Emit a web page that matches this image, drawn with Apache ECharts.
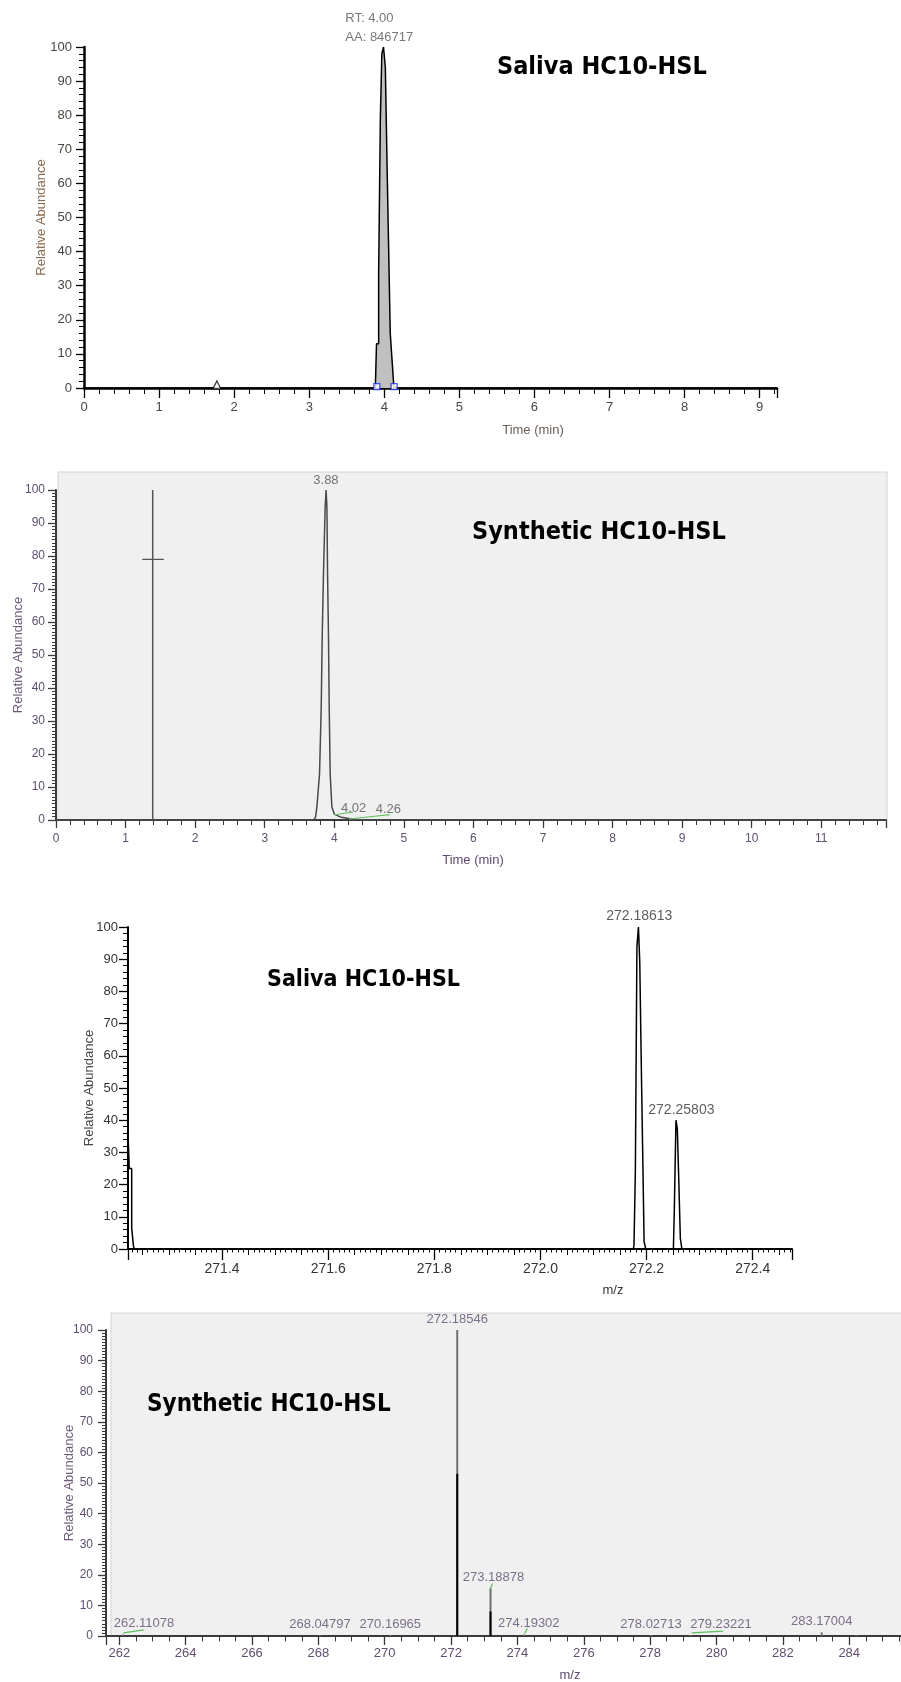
<!DOCTYPE html>
<html>
<head>
<meta charset="utf-8">
<title>HC10-HSL chromatograms and mass spectra</title>
<script src="https://cdn.jsdelivr.net/npm/echarts@6.0.0/dist/echarts.min.js"></script>
<style>
  html, body { margin: 0; padding: 0; background: #fff; }
  #chart { width: 901px; height: 1682px; }
</style>
</head>
<body>
<div id="chart"></div>
<script>
// ---- values ----

// top: saliva chromatogram (time in min / relative abundance)
const salivaRtTime = [0, 3.880, 3.912, 3.937, 3.957, 3.977, 4.001, 4.026, 4.046, 4.067, 4.091, 4.116, 4.140, 9.23];
const salivaRtAbund = [0, 0, 13, 34, 79, 98, 100, 94, 66, 42, 16, 8, 0, 0];
const salivaPeakTime = [4.00];
const salivaPeakAbund = [100];
const salivaPeakText = ["RT: 4.00\nAA: 846717"];
const salivaBoundTime = [3.90, 4.13];
const salivaBoundAbund = [0.4, 0.4];
const salivaFlagTime = [1.77];
const salivaFlagAbund = [0.9];

// second: synthetic chromatogram
const synthRtTime = [0, 3.70, 3.73, 3.75, 3.788, 3.812, 3.826, 3.845, 3.869, 3.882, 3.894, 3.903, 3.917, 3.927, 3.941, 3.965, 4.00, 4.10, 4.25, 4.42, 11.93];
const synthRtAbund = [0, 0, 0.8, 4, 14, 34, 55, 75, 95, 100, 95, 75, 55, 34, 14, 4, 1.8, 0.8, 0.3, 0, 0];
const synthCursorTime = [1.39, 1.39];
const synthCursorAbund = [0, 100];
const synthCrossTime = [1.24, 1.55];
const synthCrossAbund = [79, 79];
const synthBaseTime = [[4.00, 4.27], [4.21, 4.80]];
const synthBaseAbund = [[1.6, 2.4], [0.3, 1.6]];
const synthPeakTime = [3.88, 4.02, 4.26];
const synthPeakAbund = [100, 2.4, 1.6];
const synthPeakText = ["3.88", "4.02", "4.26"];

// third: saliva mass spectrum (profile)
const salivaMz = [271.2228, 271.2275, 271.2320, 271.2345, 271.2365,
  272.1750, 272.1775, 272.1802, 272.1834, 272.1859, 272.1884, 272.1909, 272.1938, 272.1968, 272.2000,
  272.2505, 272.2541, 272.2566, 272.2591, 272.2622, 272.2650, 272.2680, 272.474];
const salivaMzAbund = [36, 25, 6.5, 0.7, 0,
  0, 1.2, 24, 94, 100, 89, 61, 33, 2.3, 0,
  0, 12.6, 40, 37.4, 21.4, 3.3, 0, 0];
const salivaMzPeak = [272.18613, 272.25803];
const salivaMzPeakAbund = [100, 40];

// bottom: synthetic mass spectrum (centroid sticks)
const synthMz = [262.11078, 268.04797, 270.16965, 272.18546, 273.18878, 274.19302, 278.02713, 279.23221, 283.17004, 284.22];
const synthMzAbund = [0.5, 0.3, 0.3, 100, 15.6, 0.5, 0.3, 0.3, 1.2, 0.3];
const synthMzDark = [272.18546, 273.18878];
const synthMzDarkAbund = [53, 8];
const synthMzLabels = [262.11078, 268.04797, 270.16965, 272.18546, 273.18878, 274.19302, 278.02713, 279.23221, 283.17004];
const synthMzLabelAbund = [0.5, 0.3, 0.3, 100, 15.6, 0.5, 0.3, 0.3, 1.2];
const greenSegMz = [[262.12, 262.74], [273.19, 273.25], [274.22, 274.30], [279.25, 280.20]];
const greenSegAbund = [[1.0, 2.0], [15.6, 17.2], [0.8, 2.5], [1.0, 1.6]];

// label nudges in px (layout only)
const synthPeakShift = [[0, 0], [18, 6], [36, 5]];
const synthMzShift = [[21, 0], [0, 0], [0, 0], [0, 0], [3, 0], [5, 0], [0, 0], [30, 0], [0, 0]];

// ---- styling ----
const SANS = "'Liberation Sans', Arial, sans-serif";
const NARROW = "'Liberation Sans Narrow', 'Liberation Sans', Arial, sans-serif";
const TITLE_FONT = "'DejaVu Sans Condensed', 'Noto Sans', sans-serif";
const PURPLE = "#5e4f6e";

const pairs = (xs, ys) => xs.map((x, i) => [x, ys[i]]);
const onStep = (v, step) => Math.abs(v / step - Math.round(v / step)) < 1e-6;

function yAxisFor(gridIndex, c) {
  return {
    type: "value", gridIndex, min: 0, max: 100, interval: 10, position: "left",
    name: "Relative Abundance", nameLocation: "middle", nameRotate: 90, nameGap: c.nameGap,
    nameMoveOverlap: false,
    nameTextStyle: { color: c.nameColor, fontFamily: c.font, fontSize: 13 },
    axisLine: { show: true, onZero: false, lineStyle: { color: c.line, width: c.lineWidth } },
    axisTick: { show: true, length: c.tick, lineStyle: { color: c.line, width: 1.3 } },
    axisLabel: { color: c.label, fontFamily: c.font, fontSize: c.size, margin: c.margin },
    splitLine: { show: false },
  };
}

// tick-only companion axis for the minor ticks
function yMinorFor(gridIndex, step, c) {
  return {
    type: "value", gridIndex, min: 0, max: 100, interval: step, position: "left",
    axisLine: { show: false, onZero: false },
    axisTick: { show: true, length: c.minorTick, lineStyle: { color: c.line, width: 1 } },
    axisLabel: { show: false },
    splitLine: { show: false },
  };
}

// step picks the tick spacing; labelled = the axis carrying line and labels
function xAxisFor(gridIndex, range, step, c, tickLen, labelled) {
  const [min, max] = range;
  const ax = {
    type: "value", gridIndex, min, max, position: "bottom",
    axisLine: { show: labelled, onZero: false, lineStyle: { color: c.line, width: c.lineWidth } },
    axisTick: { show: true, length: tickLen, lineStyle: { color: c.line, width: labelled ? 1.3 : 1 } },
    axisLabel: {
      show: labelled, color: c.label, fontFamily: c.font, fontSize: c.size, margin: c.margin,
      formatter: (v) => (onStep(v, c.labelStep) ? v.toFixed(c.digits) : ""),
    },
    splitLine: { show: false },
  };
  if (onStep(min, step)) ax.interval = step;
  else ax.splitNumber = Math.round((max - min) / step);
  return ax;
}

function labelSeries(xi, yi, xs, ys, texts, label, shifts) {
  return {
    type: "scatter", xAxisIndex: xi, yAxisIndex: yi, symbolSize: 1, z: 5,
    itemStyle: { color: "transparent" },
    label: Object.assign({ show: true, position: "top", formatter: "{b}" }, label),
    data: xs.map((x, i) => ({
      name: texts[i], value: [x, ys[i]],
      label: shifts ? { offset: shifts[i] } : {},
    })),
  };
}

const p1 = { line: "#000", lineWidth: 2.5, label: "#4a4540", font: SANS, size: 13, margin: 13, labelStep: 1, digits: 0 };
const p2 = { line: "#3a3a3a", lineWidth: 2, label: PURPLE, font: SANS, size: 12, margin: 13, labelStep: 1, digits: 0 };
const p3 = { line: "#000", lineWidth: 2, label: "#333", font: NARROW, size: 14, margin: 13, labelStep: 0.2, digits: 1 };
const p4 = { line: "#3a3a3a", lineWidth: 2, label: PURPLE, font: SANS, size: 13, margin: 11, labelStep: 2, digits: 0 };

const y1 = { nameGap: 36, nameColor: "#8a6a4e", font: SANS, line: "#000", lineWidth: 2.5, tick: 8, minorTick: 5, label: "#4a4540", size: 13, margin: 12 };
const y2 = { nameGap: 31, nameColor: "#6e5a78", font: SANS, line: "#3a3a3a", lineWidth: 2, tick: 8, minorTick: 4, label: PURPLE, size: 12, margin: 11 };
const y3 = { nameGap: 32, nameColor: "#444", font: SANS, line: "#000", lineWidth: 2, tick: 9, minorTick: 5, label: "#333", size: 13, margin: 10 };
const y4 = { nameGap: 30, nameColor: "#6e5a78", font: SANS, line: "#3a3a3a", lineWidth: 2, tick: 8, minorTick: 4, label: PURPLE, size: 12, margin: 13 };

const xRange = [[0, 9.23], [0, 11.93], [271.2228, 272.474], [261.6, 285.56]];

const chart = echarts.init(document.getElementById("chart"), null, { renderer: "canvas" });

const greenSeries = greenSegMz.map((xs, i) => ({
  type: "line", xAxisIndex: 6, yAxisIndex: 3, symbol: "none", z: 4,
  lineStyle: { color: "#5cc05c", width: 1.2 },
  data: pairs(xs, greenSegAbund[i]),
}));
const synthBaseSeries = synthBaseTime.map((xs, i) => ({
  type: "line", xAxisIndex: 2, yAxisIndex: 1, symbol: "none", z: 4,
  lineStyle: { color: "#6cc46c", width: 1.2 },
  data: pairs(xs, synthBaseAbund[i]),
}));

const option = {
  animation: false,
  backgroundColor: "#fff",
  grid: [
    { left: 84, top: 47, width: 693, height: 341, outerBoundsMode: "none" },
    { left: 56, top: 490, width: 830, height: 330, outerBoundsMode: "none" },
    { left: 128, top: 927, width: 664, height: 322, outerBoundsMode: "none" },
    { left: 106, top: 1330, width: 795, height: 306, outerBoundsMode: "none" },
  ],
  xAxis: [
    xAxisFor(0, xRange[0], 1, p1, 10, true),
    xAxisFor(0, xRange[0], 0.2, p1, 6, false),
    xAxisFor(1, xRange[1], 1, p2, 8, true),
    xAxisFor(1, xRange[1], 0.2, p2, 5, false),
    xAxisFor(2, xRange[2], 0.2, p3, 11, true),
    xAxisFor(2, xRange[2], 0.05, p3, 6, false),
    xAxisFor(3, xRange[3], 2, p4, 9, true),
    xAxisFor(3, xRange[3], 0.5, p4, 5.5, false),
    xAxisFor(2, xRange[2], 0.01, p3, 3.5, false),
  ],
  yAxis: [
    yAxisFor(0, y1),
    yAxisFor(1, y2),
    yAxisFor(2, y3),
    yAxisFor(3, y4),
    yMinorFor(0, 2, y1),
    yMinorFor(1, 1, y2),
    yMinorFor(2, 2, y3),
    yMinorFor(3, 1, y4),
  ],
  graphic: {
    elements: [
      { type: "rect", z: -10, shape: { x: 58, y: 472, width: 829, height: 348 }, style: { fill: "#f0f0f0", stroke: "#d2d2d2", lineWidth: 1 } },
      { type: "rect", z: -10, shape: { x: 111, y: 1313, width: 795, height: 323 }, style: { fill: "#f0f0f0", stroke: "#d2d2d2", lineWidth: 1 } },
      ...[
        ["Saliva HC10-HSL", 497, 67, 25],
        ["Synthetic HC10-HSL", 472, 532, 25],
        ["Saliva HC10-HSL", 267, 980, 23],
        ["Synthetic HC10-HSL", 147, 1405, 24],
      ].map(([text, x, y, size]) => ({
        type: "text", x, y, z: 100,
        style: { text, fill: "#000", font: `bold ${size}px ${TITLE_FONT}`, textAlign: "left", textVerticalAlign: "middle", align: "left", verticalAlign: "middle" },
      })),
      ...[
        ["Time (min)", 533, 430, "#6a5c55"],
        ["Time (min)", 473, 860, "#5e4a70"],
        ["m/z", 613, 1290, "#333"],
        ["m/z", 570, 1675, "#5e4a70"],
      ].map(([text, x, y, color]) => ({
        type: "text", x, y, z: 100,
        style: { text, fill: color, font: `13px ${SANS}`, textAlign: "center", textVerticalAlign: "middle", align: "center", verticalAlign: "middle" },
      })),
    ],
  },
  series: [
    // top chromatogram
    {
      type: "line", xAxisIndex: 0, yAxisIndex: 0, step: "middle", symbol: "none", z: 3,
      lineStyle: { color: "#000", width: 1.5 },
      areaStyle: { color: "#c0c0c0", opacity: 1 },
      data: pairs(salivaRtTime, salivaRtAbund),
    },
    {
      type: "scatter", xAxisIndex: 0, yAxisIndex: 0, symbol: "rect", symbolSize: 6, z: 4,
      itemStyle: { color: "#fff", borderColor: "#1a2cff", borderWidth: 1.3 },
      data: pairs(salivaBoundTime, salivaBoundAbund),
    },
    {
      type: "scatter", xAxisIndex: 0, yAxisIndex: 0, symbol: "triangle", symbolSize: 8, z: 4,
      itemStyle: { color: "#fff", borderColor: "#000", borderWidth: 1.2 },
      data: pairs(salivaFlagTime, salivaFlagAbund),
    },
    labelSeries(0, 0, salivaPeakTime, salivaPeakAbund, salivaPeakText,
      { align: "left", offset: [-39, 5], color: "#555", fontFamily: SANS, fontSize: 13, lineHeight: 19 }),

    // synthetic chromatogram
    {
      type: "line", xAxisIndex: 2, yAxisIndex: 1, symbol: "none", z: 3,
      lineStyle: { color: "#4a4a4a", width: 1.5 },
      data: pairs(synthRtTime, synthRtAbund),
    },
    {
      type: "line", xAxisIndex: 2, yAxisIndex: 1, symbol: "none", z: 3,
      lineStyle: { color: "#555", width: 1.5 },
      data: pairs(synthCursorTime, synthCursorAbund),
    },
    {
      type: "line", xAxisIndex: 2, yAxisIndex: 1, symbol: "none", z: 3,
      lineStyle: { color: "#555", width: 1.3 },
      data: pairs(synthCrossTime, synthCrossAbund),
    },
    ...synthBaseSeries,
    labelSeries(2, 1, synthPeakTime, synthPeakAbund, synthPeakText,
      { color: "#555", fontFamily: SANS, fontSize: 13, distance: 3 }, synthPeakShift),

    // saliva mass spectrum
    {
      type: "line", xAxisIndex: 4, yAxisIndex: 2, step: "middle", symbol: "none", z: 3,
      lineStyle: { color: "#000", width: 1.5 },
      data: pairs(salivaMz, salivaMzAbund),
    },
    labelSeries(4, 2, salivaMzPeak, salivaMzPeakAbund, salivaMzPeak.map((v) => v.toFixed(5)),
      { color: "#333", fontFamily: NARROW, fontSize: 14, distance: 3 }, [[0, 0], [4, 0]]),

    // synthetic mass spectrum
    {
      type: "bar", xAxisIndex: 6, yAxisIndex: 3, barWidth: 2, barGap: "-100%", z: 3,
      itemStyle: { color: "#707070" },
      data: pairs(synthMz, synthMzAbund),
    },
    {
      type: "bar", xAxisIndex: 6, yAxisIndex: 3, barWidth: 2, barGap: "-100%", z: 3,
      itemStyle: { color: "#000" },
      data: pairs(synthMzDark, synthMzDarkAbund),
    },
    ...greenSeries,
    labelSeries(6, 3, synthMzLabels, synthMzLabelAbund, synthMzLabels.map((v) => v.toFixed(5)),
      { color: PURPLE, fontFamily: SANS, fontSize: 13, distance: 4 }, synthMzShift),
  ],
};

chart.setOption(option);
</script>
</body>
</html>
